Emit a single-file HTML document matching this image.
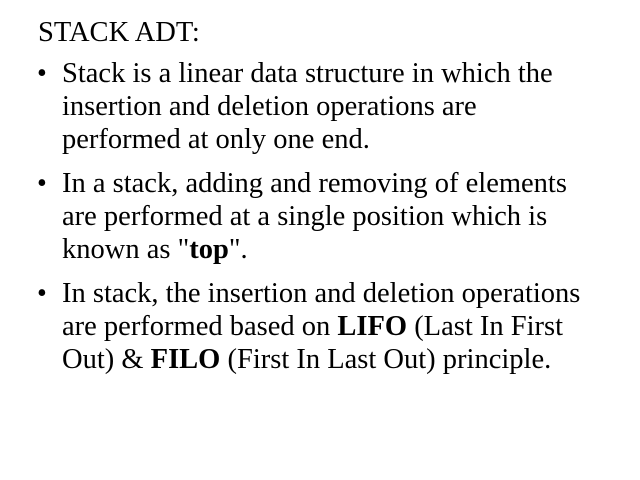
<!DOCTYPE html>
<html><head><style>
body{margin:0;width:640px;height:480px;background:#fff;font-family:"Liberation Serif",serif;color:#000;font-size:28.5px;position:relative;overflow:hidden}
.l{position:absolute;white-space:nowrap;line-height:33px}
.b{position:absolute;left:37px;font-size:28px;line-height:33px}
</style></head><body>
<div class="l" style="left:38px;top:16px">STACK ADT:</div>
<div class="b" style="top:57px">•</div>
<div class="l" style="left:62px;top:57px">Stack is a linear data structure in which the<br>insertion and deletion operations are<br>performed at only one end.</div>
<div class="b" style="top:167px">•</div>
<div class="l" style="left:62px;top:167px">In a stack, adding and removing of elements<br>are performed at a single position which is<br>known as "<b>top</b>".</div>
<div class="b" style="top:277px">•</div>
<div class="l" style="left:62px;top:277px">In stack, the insertion and deletion operations<br>are performed based on <b>LIFO</b> (Last In First<br>Out) &amp; <b>FILO</b> (First In Last Out) principle.</div>
</body></html>
